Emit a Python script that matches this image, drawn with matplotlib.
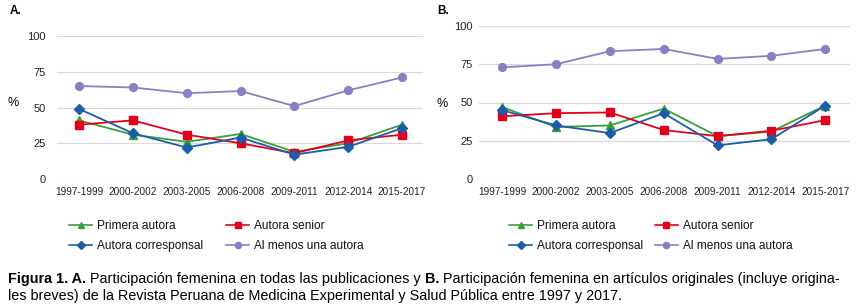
import matplotlib
matplotlib.use("Agg")
import matplotlib.pyplot as plt
from matplotlib.lines import Line2D

plt.rcParams['font.family'] = ['Liberation Sans', 'DejaVu Sans']

periods = ["1997-1999", "2000-2002", "2003-2005", "2006-2008", "2009-2011", "2012-2014", "2015-2017"]
series_names = ["Primera autora", "Autora senior", "Autora corresponsal", "Al menos una autora"]

# Panel A: todas las publicaciones
a_primera = [41, 31, 26, 31.5, 19, 25, 38]
a_senior = [38, 41, 31, 25, 18, 27, 31]
a_corresp = [49, 32, 22, 29, 17, 22.5, 35.5]
a_almenos = [65, 64, 60, 61.5, 51, 62, 71]

# Panel B: artículos originales
b_primera = [47, 34, 35, 46, 28, 31, 48]
b_senior = [41, 43, 43.5, 32, 28, 31.5, 38.5]
b_corresp = [45, 35, 30, 43, 22, 26, 48]
b_almenos = [73, 75, 83.5, 85, 78.5, 80.5, 85]

yticks = [0, 25, 50, 75, 100]

colors = {"primera": "#3A9E3A", "senior": "#E2001A", "corresp": "#1C5DA8", "almenos": "#8C7EC2"}
grid_color = "#D9D9D9"

W, H = 859, 305
fig = plt.figure(figsize=(W / 100, H / 100), dpi=100)


def px_axes(left, right, top, bottom):
    return [left / W, 1 - bottom / H, (right - left) / W, (bottom - top) / H]


def draw_panel(ax, primera, senior, corresp, almenos, xlim, ypad):
    x = list(range(len(periods)))
    h_alm, = ax.plot(x, almenos, color=colors["almenos"], lw=1.3, marker="o", ms=5.6, zorder=3)
    h_pri, = ax.plot(x, primera, color=colors["primera"], lw=1.3, marker="^", ms=5.8, zorder=4)
    h_sen, = ax.plot(x, senior, color=colors["senior"], lw=1.3, marker="s", ms=6.0, zorder=5)
    h_cor, = ax.plot(x, corresp, color=colors["corresp"], lw=1.3, marker="D", ms=5.6, zorder=6)
    ax.set_xlim(*xlim)
    ax.set_ylim(0, 100)
    ax.set_yticks(yticks)
    ax.set_xticks(x)
    ax.set_xticklabels(periods, fontsize=7.2, color="#222222")
    ax.tick_params(axis="y", labelsize=8, length=0, pad=ypad, labelcolor="#222222")
    ax.tick_params(axis="x", length=0, pad=5.5)
    ax.grid(axis="y", color=grid_color, lw=0.9, zorder=0)
    ax.set_axisbelow(True)
    for s in ax.spines.values():
        s.set_visible(False)
    return h_pri, h_sen, h_cor, h_alm


axA = fig.add_axes(px_axes(57, 423, 36, 179))
hA = draw_panel(axA, a_primera, a_senior, a_corresp, a_almenos, (-0.41, 6.39), 8)
axB = fig.add_axes(px_axes(479, 850, 26, 179))
hB = draw_panel(axB, b_primera, b_senior, b_corresp, b_almenos, (-0.43, 6.46), 4.5)

fig.text(10 / W, 1 - 11 / H, "A.", fontsize=8.5, fontweight="bold", va="center", ha="left")
fig.text(437 / W, 1 - 11 / H, "B.", fontsize=8.5, fontweight="bold", va="center", ha="left")
fig.text(13 / W, 1 - 103 / H, "%", fontsize=9, va="center", ha="center")
fig.text(442 / W, 1 - 104 / H, "%", fontsize=9, va="center", ha="center")


def make_legend(handles, x_left, colspace):
    order = [0, 2, 1, 3]
    hs = [handles[i] for i in order]
    labels = [series_names[i] for i in order]
    proxies = []
    for h in hs:
        proxies.append(Line2D([], [], color=h.get_color(), lw=1.2, marker=h.get_marker(),
                              ms=h.get_markersize() * 0.8))
    leg = fig.legend(proxies, labels, ncol=2, loc="center left",
                     bbox_to_anchor=(x_left / W, 1 - 236 / H), frameon=False,
                     fontsize=8.6, handlelength=1.95, handletextpad=0.4,
                     columnspacing=colspace, labelspacing=0.62, borderpad=0, borderaxespad=0)
    for t in leg.get_texts():
        t.set_color("#111111")
    return leg


make_legend(hA, 69, 1.9)
make_legend(hB, 509, 0.95)

# Caption
cax = fig.add_axes([0, 0, 1, 1])
cax.axis("off")
cax.set_zorder(-1)
cap_size = 10.35
line1 = [("Figura 1. A.", "bold"), (" Participación femenina en todas las publicaciones y ", "normal"),
         ("B.", "bold"), (" Participación femenina en artículos originales (incluye origina-", "normal")]
line2 = "les breves) de la Revista Peruana de Medicina Experimental y Salud Pública entre 1997 y 2017."

prev = cax.text(8 / W, 1 - 286 / H, line1[0][0], fontsize=cap_size, fontweight=line1[0][1],
                va="bottom", ha="left", transform=fig.transFigure)
for txt, wt in line1[1:]:
    prev = cax.annotate(txt, xy=(1, 0), xycoords=prev, va="bottom", ha="left",
                        fontsize=cap_size, fontweight=wt)
cax.text(8 / W, 1 - 303 / H, line2, fontsize=cap_size, va="bottom", ha="left",
         transform=fig.transFigure)

fig.savefig("out.png", dpi=100)
